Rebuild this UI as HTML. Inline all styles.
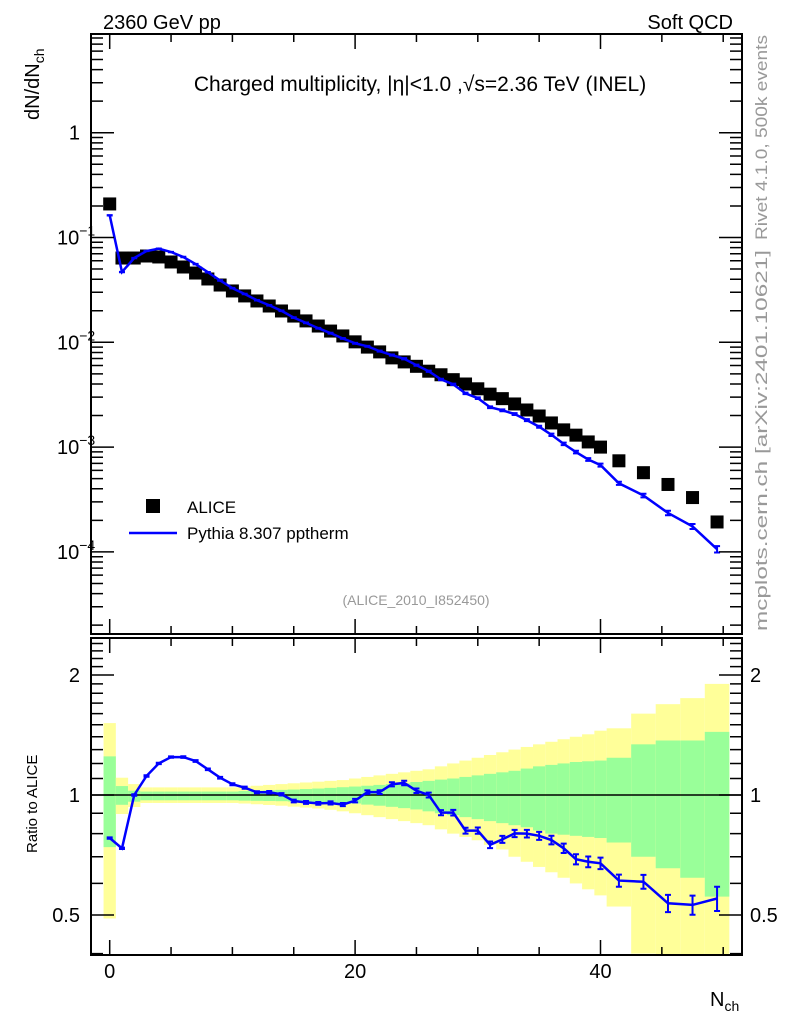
<!DOCTYPE html>
<html><head><meta charset="utf-8"><style>
body{margin:0;background:#fff}
svg text{font-family:"Liberation Sans",sans-serif}
</style></head><body>
<svg id="c" width="786" height="1024" viewBox="0 0 786 1024" xmlns="http://www.w3.org/2000/svg">
<text x="103" y="29" font-size="20">2360 GeV pp</text>
<text x="733" y="29" font-size="20" text-anchor="end">Soft QCD</text>
<text x="420" y="91" font-size="21" text-anchor="middle">Charged multiplicity, |η|&lt;1.0 ,√s=2.36 TeV (INEL)</text>
<text x="416" y="605" font-size="14" fill="#999" text-anchor="middle">(ALICE_2010_I852450)</text>
<text transform="translate(767,240) rotate(-90)" font-size="17" fill="#999" textLength="205" lengthAdjust="spacingAndGlyphs">Rivet 4.1.0,  500k events</text>
<text transform="translate(767,631) rotate(-90)" font-size="17" fill="#999" textLength="381" lengthAdjust="spacingAndGlyphs">mcplots.cern.ch [arXiv:2401.10621]</text>
<text transform="translate(39,120) rotate(-90)" font-size="20">dN/dN<tspan font-size="14" dy="5">ch</tspan></text>
<text transform="translate(37,853) rotate(-90)" font-size="15">Ratio to ALICE</text>
<text x="710" y="1006" font-size="20">N<tspan font-size="14" dy="5">ch</tspan></text>
<g id="bands"></g><g id="marks"></g><g id="axes"></g>
<g>
<rect x="146" y="499" width="14" height="14" fill="#000"/>
<text x="187" y="513" font-size="17">ALICE</text>
<line x1="129" y1="533" x2="177" y2="533" stroke="#0000ff" stroke-width="2.5"/>
<text x="187" y="539" font-size="17">Pythia 8.307 pptherm</text>
</g>
</svg>
<script>
const nch=[0,1,2,3,4,5,6,7,8,9,10,11,12,13,14,15,16,17,18,19,20,21,22,23,24,25,26,27,28,29,30,31,32,33,34,35,36,37,38,39,40,41.5,43.5,45.5,47.5,49.5];
const binW=[1,1,1,1,1,1,1,1,1,1,1,1,1,1,1,1,1,1,1,1,1,1,1,1,1,1,1,1,1,1,1,1,1,1,1,1,1,1,1,1,1,2,2,2,2,2];
const alice=[0.209,0.0637,0.0637,0.0666,0.0652,0.0584,0.0523,0.0458,0.0402,0.0352,0.0309,0.0277,0.0248,0.0222,0.0199,0.0178,0.0160,0.0143,0.0128,0.0115,0.0101,0.0090,0.0081,0.0071,0.0065,0.0059,0.0053,0.0049,0.0044,0.0040,0.0036,0.0032,0.0029,0.00258,0.00226,0.00198,0.0017,0.00146,0.0013,0.00112,0.00100,0.00074,0.00057,0.00044,0.00033,0.000193];
const ratio=[0.78,0.735,1.0,1.116,1.2,1.245,1.245,1.217,1.16,1.105,1.064,1.043,1.016,1.016,1.004,0.966,0.958,0.953,0.955,0.946,0.968,1.017,1.017,1.064,1.072,1.025,1.0,0.903,0.903,0.814,0.814,0.75,0.774,0.801,0.80,0.79,0.771,0.735,0.69,0.68,0.674,0.61,0.606,0.535,0.53,0.55];
const relErr=[0.004,0.004,0.004,0.004,0.004,0.004,0.005,0.005,0.005,0.005,0.006,0.006,0.006,0.007,0.007,0.008,0.008,0.008,0.009,0.009,0.01,0.01,0.011,0.012,0.013,0.013,0.014,0.015,0.016,0.017,0.018,0.019,0.02,0.021,0.022,0.023,0.025,0.027,0.029,0.031,0.033,0.035,0.04,0.05,0.055,0.07];
const greenUp=[1.25,1.053,1.025,1.02,1.02,1.02,1.02,1.02,1.02,1.02,1.02,1.023,1.025,1.027,1.03,1.032,1.035,1.038,1.042,1.046,1.05,1.055,1.06,1.065,1.07,1.078,1.085,1.093,1.10,1.11,1.12,1.13,1.14,1.15,1.165,1.18,1.19,1.20,1.21,1.215,1.22,1.24,1.34,1.37,1.37,1.44];
const greenDn=[0.74,0.945,0.962,0.97,0.97,0.97,0.97,0.97,0.97,0.97,0.97,0.968,0.967,0.966,0.965,0.963,0.96,0.958,0.956,0.954,0.952,0.946,0.94,0.934,0.927,0.92,0.91,0.90,0.89,0.88,0.87,0.86,0.85,0.84,0.83,0.815,0.80,0.795,0.79,0.785,0.78,0.76,0.70,0.655,0.62,0.556];
const yellowUp=[1.515,1.105,1.065,1.045,1.045,1.045,1.045,1.045,1.045,1.045,1.045,1.05,1.055,1.06,1.065,1.07,1.075,1.08,1.085,1.09,1.10,1.11,1.12,1.13,1.14,1.15,1.16,1.18,1.20,1.22,1.24,1.26,1.28,1.30,1.32,1.34,1.36,1.38,1.40,1.42,1.45,1.47,1.6,1.69,1.75,1.9];
const yellowDn=[0.49,0.896,0.933,0.955,0.955,0.955,0.955,0.955,0.955,0.955,0.955,0.952,0.948,0.944,0.94,0.935,0.93,0.925,0.918,0.91,0.90,0.89,0.88,0.87,0.86,0.85,0.84,0.82,0.80,0.785,0.77,0.75,0.73,0.70,0.68,0.66,0.64,0.62,0.60,0.58,0.56,0.525,0.40,0.3,0.3,0.3];
const mainTicks=["1","10","10","10","10"],mainExp=["","−1","−2","−3","−4"];
const ratioTicks=[2,1,0.5],ratioLabels=["2","1","0.5"];
const xTicks=[0,20,40],xLabels=["0","20","40"];

const NS="http://www.w3.org/2000/svg";
const L=91,R=742,MT=34,MB=634,RT=638,RB=955;
const X=n=>109.7+12.27*n;
const Y=v=>132.7-104.8*Math.log10(v);
const RY=r=>795-398.6*Math.log10(r);
function mk(tag,attrs,parent){const e=document.createElementNS(NS,tag);for(const k in attrs)e.setAttribute(k,attrs[k]);parent.appendChild(e);return e;}
const bands=document.getElementById('bands'),marks=document.getElementById('marks'),axes=document.getElementById('axes');
const clip=r=>Math.max(RT,Math.min(RB,r));
for(let i=0;i<nch.length;i++){
  const x0=X(nch[i]-binW[i]/2),x1=X(nch[i]+binW[i]/2);
  const y=mk('rect',{x:x0,y:clip(RY(yellowUp[i])),width:x1-x0,height:clip(RY(yellowDn[i]))-clip(RY(yellowUp[i])),fill:'#ffff99'},bands);
  
  
  const g=mk('rect',{x:x0,y:RY(greenUp[i]),width:x1-x0,height:RY(greenDn[i])-RY(greenUp[i]),fill:'#99ff99'},bands);
  
  
}
const ref=mk('line',{x1:L,x2:R,y1:RY(1),y2:RY(1),stroke:'#000','stroke-width':1.5},marks);


for(let i=0;i<nch.length;i++){
  const s=mk('rect',{x:X(nch[i])-6.5,y:Y(alice[i])-6.5,width:13,height:13,fill:'#000'},marks);
  
  
}
let pm='',pr='';
for(let i=0;i<nch.length;i++){
  const mc=alice[i]*ratio[i];
  pm+=(i?'L':'M')+X(nch[i])+','+Y(mc);
  pr+=(i?'L':'M')+X(nch[i])+','+RY(ratio[i]);
  const x=X(nch[i]);
  const e1=mk('path',{d:`M${x},${Y(mc*(1+relErr[i]))}L${x},${Y(mc*(1-relErr[i]))}M${x-3},${Y(mc*(1+relErr[i]))}h6M${x-3},${Y(mc*(1-relErr[i]))}h6`,stroke:'#0000ff','stroke-width':2,fill:'none'},marks);
  
  
  const e2=mk('path',{d:`M${x},${RY(ratio[i]*(1+relErr[i]))}L${x},${RY(ratio[i]*(1-relErr[i]))}M${x-3},${RY(ratio[i]*(1+relErr[i]))}h6M${x-3},${RY(ratio[i]*(1-relErr[i]))}h6`,stroke:'#0000ff','stroke-width':2,fill:'none'},marks);
  
  
}
const l1=mk('path',{d:pm,stroke:'#0000ff','stroke-width':2.5,fill:'none'},marks);


const l2=mk('path',{d:pr,stroke:'#0000ff','stroke-width':2.5,fill:'none'},marks);


const f1=mk('rect',{x:L,y:MT,width:R-L,height:MB-MT,fill:'none',stroke:'#000','stroke-width':2},axes);


const f2=mk('rect',{x:L,y:RT,width:R-L,height:RB-RT,fill:'none',stroke:'#000','stroke-width':2},axes);


let td='';
for(let n=0;n<=50;n+=5){const x=X(n),len=(n%20===0)?15:8;
  td+=`M${x},${MB}v${-len}M${x},${MT}v${len}M${x},${RB}v${-len}M${x},${RT}v${len}`;}
for(let d=-5;d<=0;d++){for(let k=1;k<10;k++){const v=k*Math.pow(10,d);const y=Y(v);if(y<MT||y>MB)continue;const len=k===1?23:12;td+=`M${L},${y}h${len}M${R},${y}h${-len}`;}}
for(let r=0.4;r<=2.45;r+=0.1){const y=RY(r);if(y<RT||y>RB)continue;const maj=[0.5,1,2].some(t=>Math.abs(t-r)<1e-6);const len=maj?23:12;td+=`M${L},${y}h${len}M${R},${y}h${-len}`;}
const tk=mk('path',{d:td,stroke:'#000','stroke-width':1.5,fill:'none'},axes);


for(let i=0;i<mainTicks.length;i++){
  const y=Y(Math.pow(10,-i));
  const t=mk('text',{x:i?57:80,y:y+7,'font-size':20,'text-anchor':i?'start':'end'},axes);
  t.textContent=mainTicks[i];
  if(mainExp[i]){const s=mk('tspan',{'font-size':14,dy:-9},t);s.textContent=mainExp[i];}
  
  
}
for(let i=0;i<ratioTicks.length;i++){
  const y=RY(ratioTicks[i]);
  const a=mk('text',{x:80,y:y+7,'font-size':20,'text-anchor':'end'},axes);a.textContent=ratioLabels[i];
  
  
  const b=mk('text',{x:750,y:y+7,'font-size':20},axes);b.textContent=ratioLabels[i];
  
  
}
for(let i=0;i<xTicks.length;i++){
  const t=mk('text',{x:X(xTicks[i]),y:978,'font-size':20,'text-anchor':'middle'},axes);t.textContent=xLabels[i];
  
  
}
</script>
</body></html>
